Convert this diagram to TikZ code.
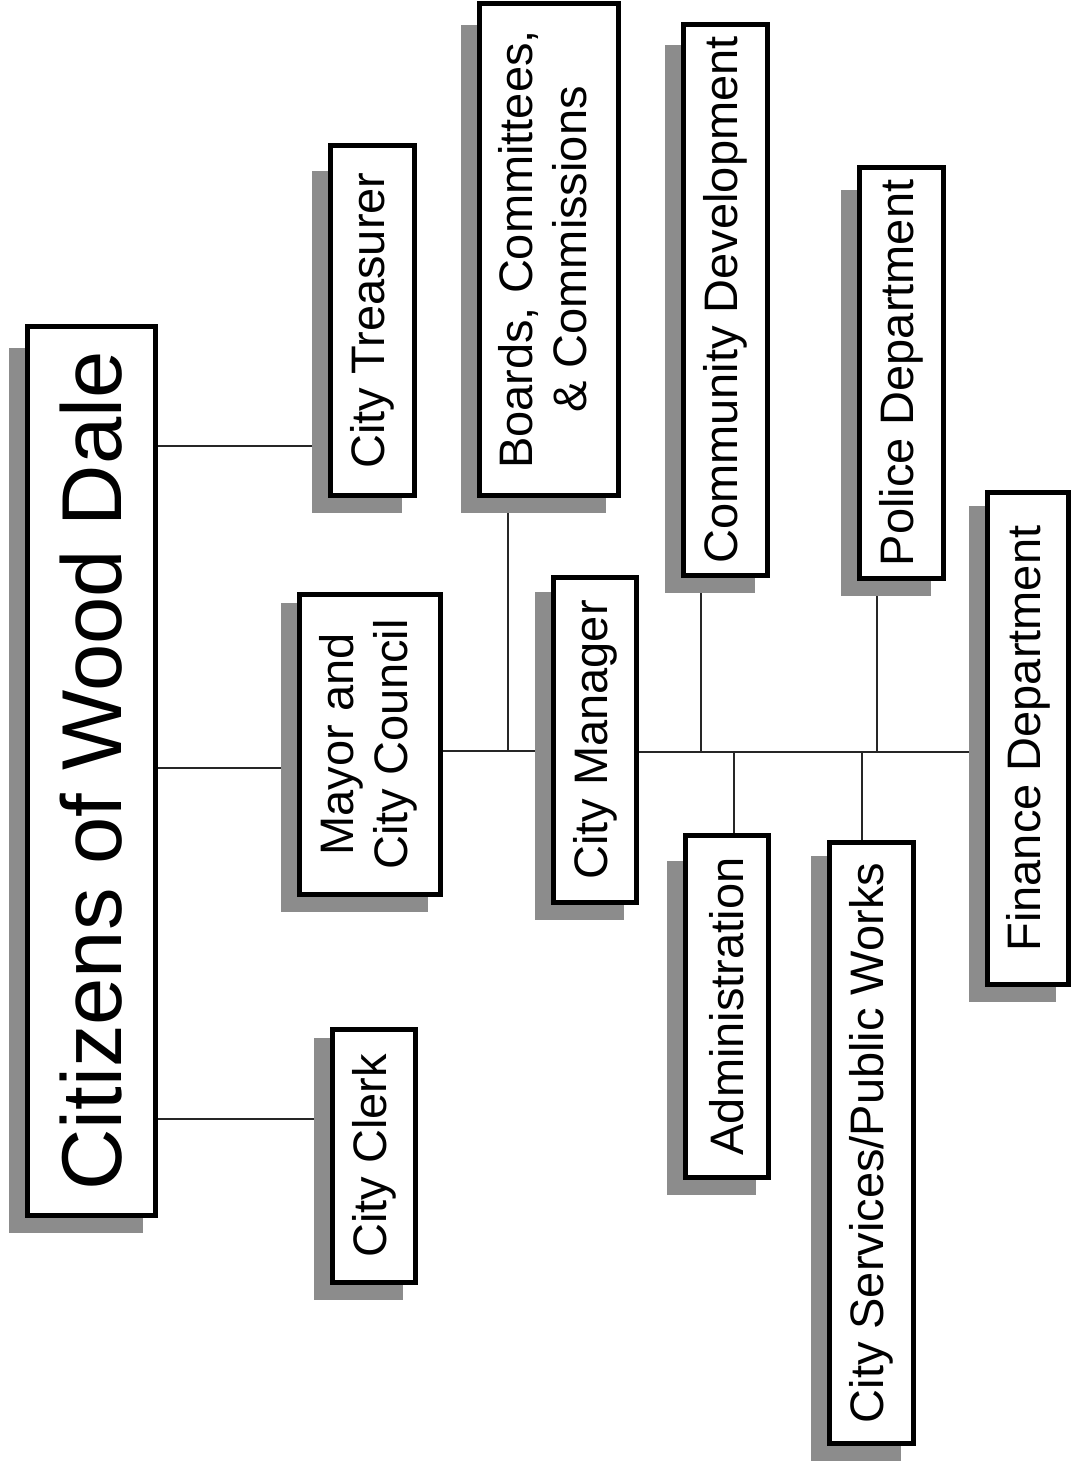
\documentclass[tikz,border=0pt]{standalone}
\usepackage{fontspec}
\setmainfont{Liberation Sans}
\usetikzlibrary{backgrounds}

\tikzset{
  orgbox/.style={draw=black, line width=5pt, fill=white, inner sep=0pt,
    font=\fontsize{47}{54}\selectfont},
  link/.style={draw=black!85, line width=1.6pt},
  boxshade/.style={fill=black!45}
}
% gray drop shadow, down and to the left of a box
\newcommand{\boxdrop}[2][24]{\fill[boxshade] ([xshift=-16pt,yshift=-#1pt]#2.north west) rectangle ([xshift=-15pt,yshift=-15pt]#2.south east);}
\newcommand{\twolines}[2]{\rotatebox{90}{\begin{tabular}{@{}c@{}}#1\\#2\end{tabular}}}

\begin{document}
\begin{tikzpicture}[x=1pt, y=-1pt]
    \useasboundingbox (0,0) rectangle (1072,1476);

    % boxes
    \node[orgbox, minimum width=128pt, minimum height=889pt, font=\fontsize{85}{90}\selectfont] (cit) at (91.5,771) {\rotatebox{90}{Citizens of Wood Dale}};
    \node[orgbox, minimum width=83pt, minimum height=253pt] (clerk) at (374,1156) {\rotatebox{90}{City Clerk}};
    \node[orgbox, minimum width=141pt, minimum height=300pt] (mayor) at (370,744.5) {\twolines{Mayor and}{City Council}};
    \node[orgbox, minimum width=84pt, minimum height=350pt] (treas) at (372.5,320.5) {\rotatebox{90}{City Treasurer}};
    \node[orgbox, minimum width=139pt, minimum height=492pt] (boards) at (549,249.5) {\twolines{Boards, Committees,}{\& Commissions}};
    \node[orgbox, minimum width=83pt, minimum height=325pt] (mgr) at (595,740) {\rotatebox{90}{City Manager}};
    \node[orgbox, minimum width=84pt, minimum height=551pt] (comm) at (725.5,300) {\rotatebox{90}{Community Development}};
    \node[orgbox, minimum width=84pt, minimum height=411pt] (police) at (901.5,373) {\rotatebox{90}{Police Department}};
    \node[orgbox, minimum width=83pt, minimum height=342pt] (admin) at (727,1006.5) {\rotatebox{90}{Administration}};
    \node[orgbox, minimum width=84pt, minimum height=601pt] (serv) at (871.5,1143) {\rotatebox{90}{City Services/Public Works}};
    \node[orgbox, minimum width=81pt, minimum height=492pt] (fin) at (1028,738.5) {\rotatebox{90}{Finance Department}};

    \begin{scope}[on background layer]
        % connectors
        \draw[link] (cit.east |- 0,446) -- (treas.west |- 0,446);
        \draw[link] (cit.east |- 0,768) -- (mayor.west |- 0,768);
        \draw[link] (cit.east |- 0,1119) -- (clerk.west |- 0,1119);
        \draw[link] (mayor.east |- 0,751) -- (mgr.west |- 0,751);
        \draw[link] (508,751) -- (boards.south -| 508,0);
        \draw[link] (mgr.east |- 0,752) -- (fin.west |- 0,752);
        \draw[link] (701,752) -- (comm.south -| 701,0);
        \draw[link] (877,752) -- (police.south -| 877,0);
        \draw[link] (734,752) -- (admin.north -| 734,0);
        \draw[link] (862,752) -- (serv.north -| 862,0);
        % shadows
        \boxdrop[24]{cit}
        \boxdrop[11]{clerk}
        \boxdrop[11]{mayor}
        \boxdrop[28]{treas}
        \boxdrop[24]{boards}
        \boxdrop[17]{mgr}
        \boxdrop[23]{comm}
        \boxdrop[25]{police}
        \boxdrop[28]{admin}
        \boxdrop[16]{serv}
        \boxdrop[16]{fin}
    \end{scope}
\end{tikzpicture}
\end{document}
